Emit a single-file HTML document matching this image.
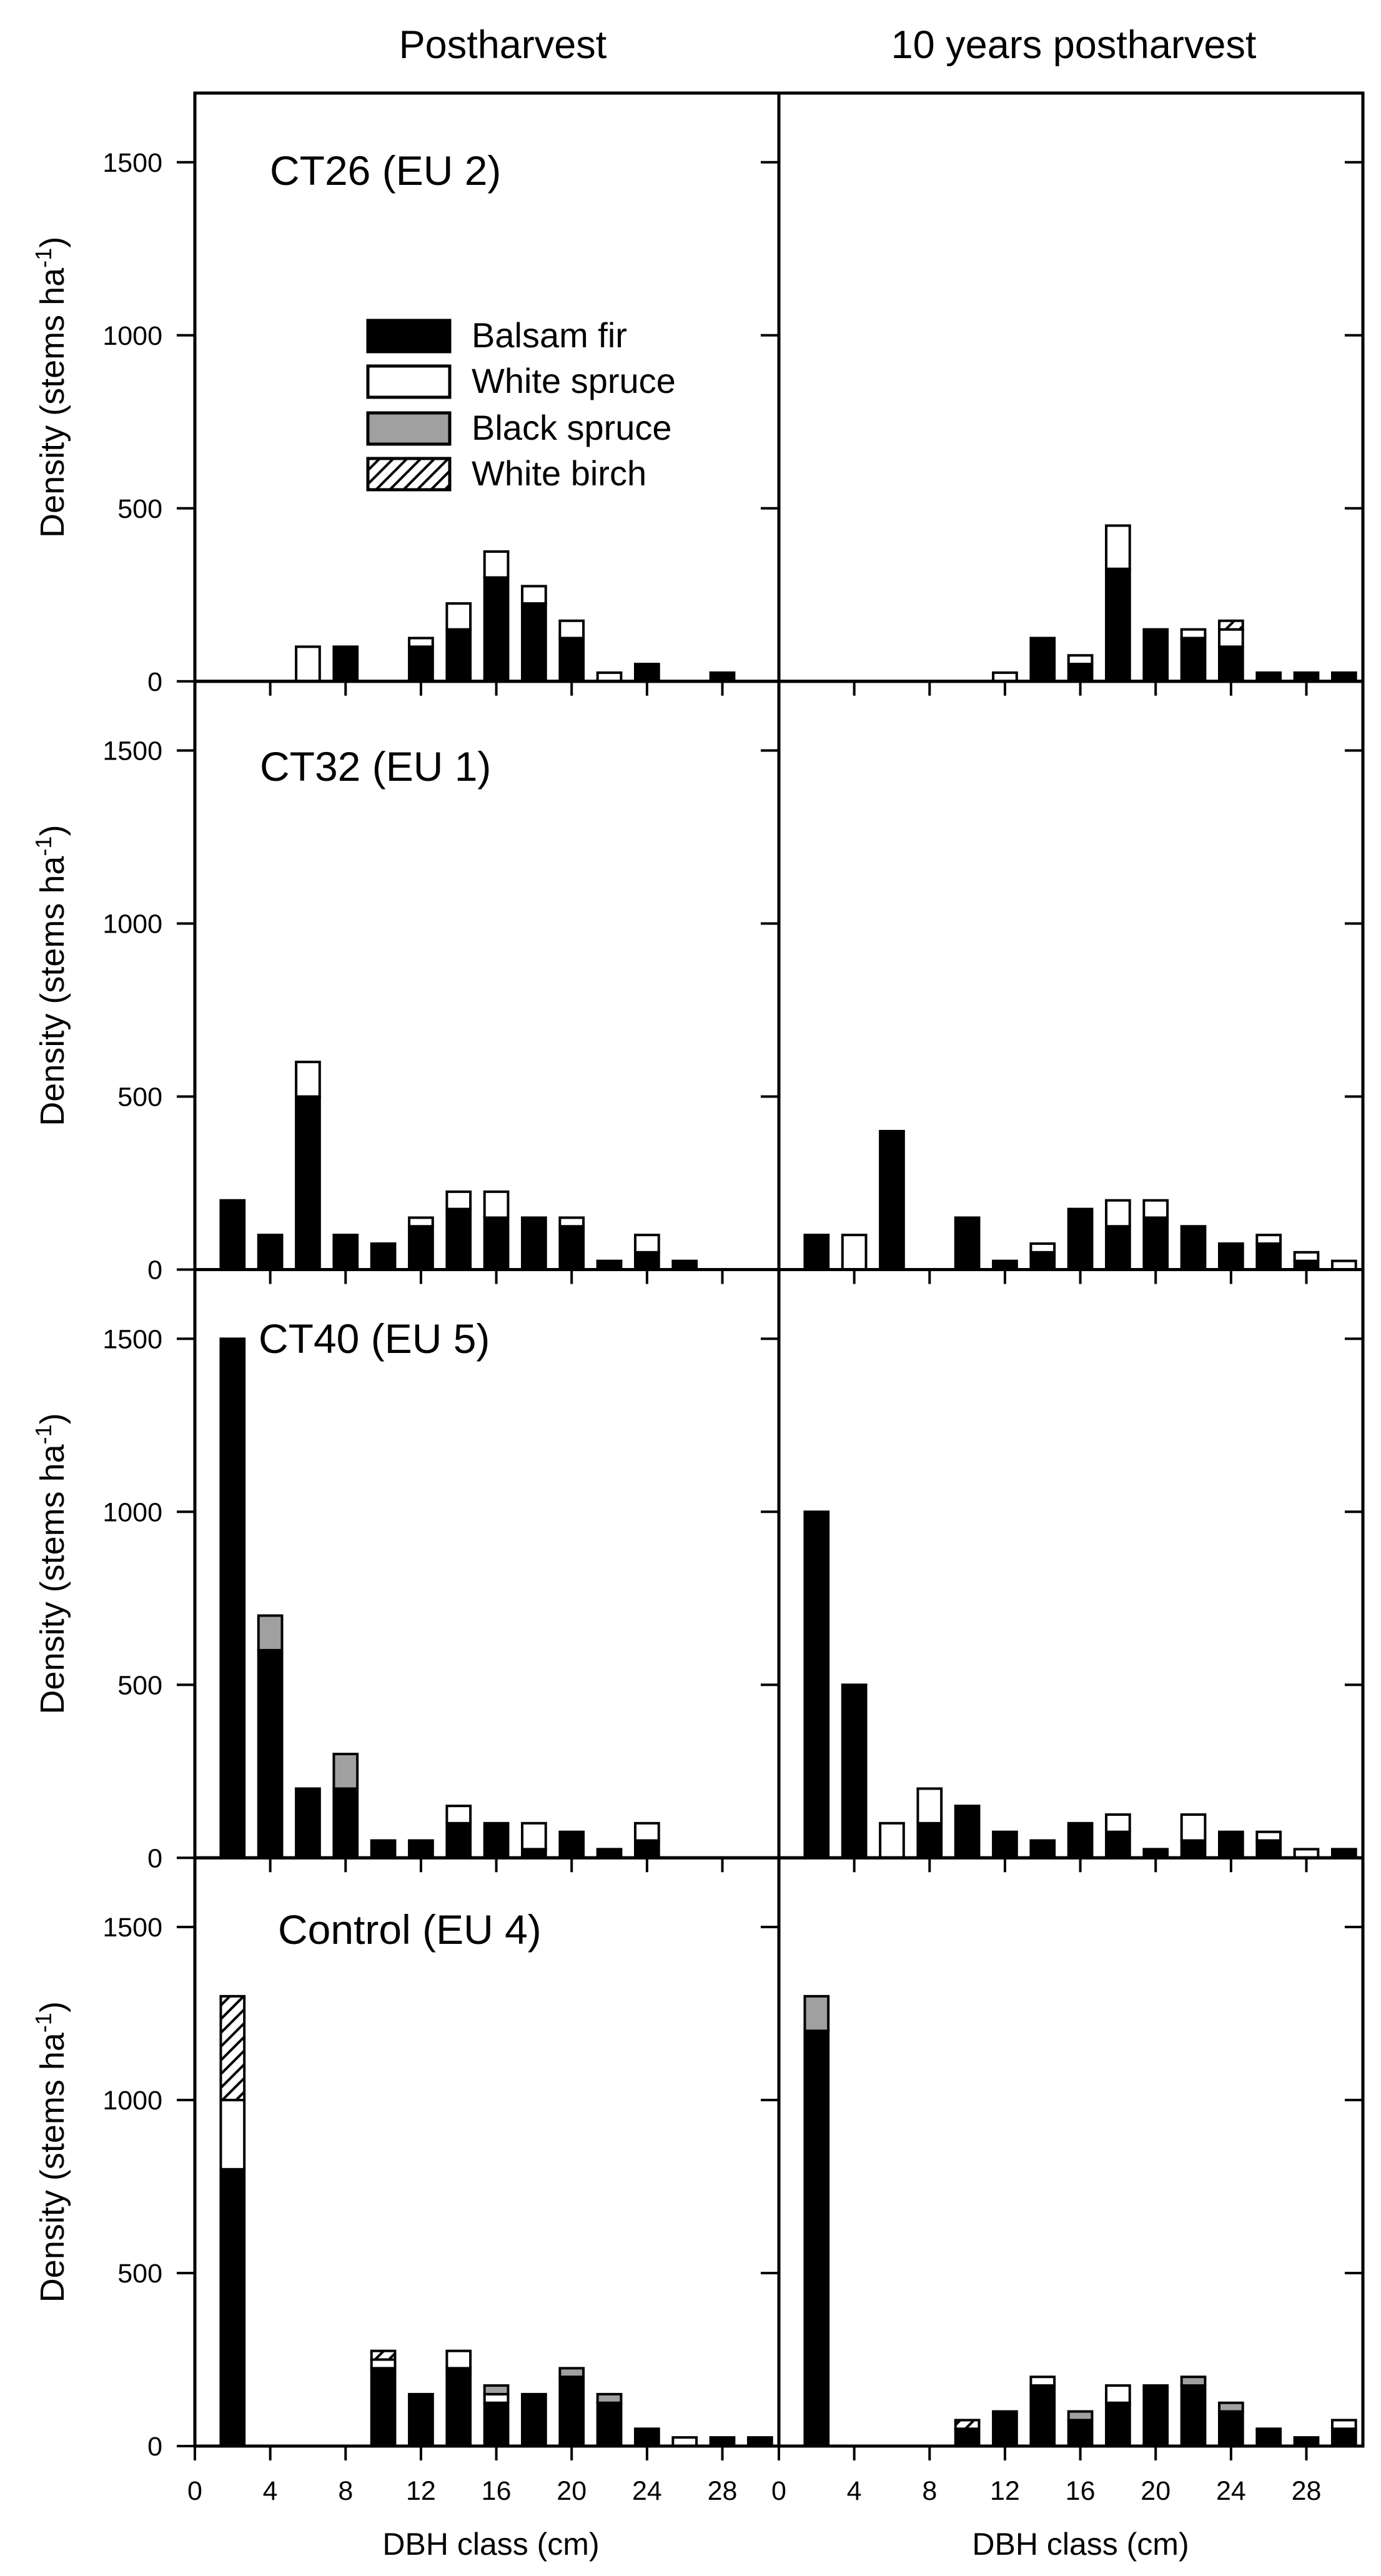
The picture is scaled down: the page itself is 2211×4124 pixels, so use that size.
<!DOCTYPE html>
<html><head><meta charset="utf-8">
<style>
html,body{margin:0;padding:0;background:#fff;}
svg{display:block;font-family:"Liberation Sans",Arial,sans-serif;}
</style></head>
<body>
<svg id="chart" xmlns="http://www.w3.org/2000/svg" width="2211" height="4124" viewBox="0 0 2211 4124">
<defs>
<pattern id="hatch" patternUnits="userSpaceOnUse" width="22" height="22">
<rect width="22" height="22" fill="#fff"/>
<path d="M-5,27 L27,-5 M-16,16 L16,-16 M6,38 L38,6" stroke="#000" stroke-width="4"/>
</pattern>
</defs>
</svg>
<script>
// DBH classes (cm)
const classes = [2,4,6,8,10,12,14,16,18,20,22,24,26,28,30];
const xTicks = [0,4,8,12,16,20,24,28];
const yTicks = [0,500,1000,1500];
const species = ["Balsam fir","White spruce","Black spruce","White birch"];
const columnTitles = ["Postharvest","10 years postharvest"];
const rowTitles = ["CT26 (EU 2)","CT32 (EU 1)","CT40 (EU 5)","Control (EU 4)"];

// CT26 postharvest
const ct26PostFir    = [0,0,0,100,0,100,150,300,225,125,0,50,0,25,0];
const ct26PostWhite  = [0,0,100,0,0,25,75,75,50,50,25,0,0,0,0];
const ct26PostBlack  = [0,0,0,0,0,0,0,0,0,0,0,0,0,0,0];
const ct26PostBirch  = [0,0,0,0,0,0,0,0,0,0,0,0,0,0,0];
// CT26 10 years
const ct26TenFir     = [0,0,0,0,0,0,125,50,325,150,125,100,25,25,25];
const ct26TenWhite   = [0,0,0,0,0,25,0,25,125,0,25,50,0,0,0];
const ct26TenBlack   = [0,0,0,0,0,0,0,0,0,0,0,0,0,0,0];
const ct26TenBirch   = [0,0,0,0,0,0,0,0,0,0,0,25,0,0,0];
// CT32 postharvest
const ct32PostFir    = [200,100,500,100,75,125,175,150,150,125,25,50,25,0,0];
const ct32PostWhite  = [0,0,100,0,0,25,50,75,0,25,0,50,0,0,0];
const ct32PostBlack  = [0,0,0,0,0,0,0,0,0,0,0,0,0,0,0];
const ct32PostBirch  = [0,0,0,0,0,0,0,0,0,0,0,0,0,0,0];
// CT32 10 years
const ct32TenFir     = [100,0,400,0,150,25,50,175,125,150,125,75,75,25,0];
const ct32TenWhite   = [0,100,0,0,0,0,25,0,75,50,0,0,25,25,25];
const ct32TenBlack   = [0,0,0,0,0,0,0,0,0,0,0,0,0,0,0];
const ct32TenBirch   = [0,0,0,0,0,0,0,0,0,0,0,0,0,0,0];
// CT40 postharvest
const ct40PostFir    = [1500,600,200,200,50,50,100,100,25,75,25,50,0,0,0];
const ct40PostWhite  = [0,0,0,0,0,0,50,0,75,0,0,50,0,0,0];
const ct40PostBlack  = [0,100,0,100,0,0,0,0,0,0,0,0,0,0,0];
const ct40PostBirch  = [0,0,0,0,0,0,0,0,0,0,0,0,0,0,0];
// CT40 10 years
const ct40TenFir     = [1000,500,0,100,150,75,50,100,75,25,50,75,50,0,25];
const ct40TenWhite   = [0,0,100,100,0,0,0,0,50,0,75,0,25,25,0];
const ct40TenBlack   = [0,0,0,0,0,0,0,0,0,0,0,0,0,0,0];
const ct40TenBirch   = [0,0,0,0,0,0,0,0,0,0,0,0,0,0,0];
// Control postharvest
const ctlPostFir     = [800,0,0,0,225,150,225,125,150,200,125,50,0,25,25];
const ctlPostWhite   = [200,0,0,0,25,0,50,25,0,0,0,0,25,0,0];
const ctlPostBlack   = [0,0,0,0,0,0,0,25,0,25,25,0,0,0,0];
const ctlPostBirch   = [300,0,0,0,25,0,0,0,0,0,0,0,0,0,0];
// Control 10 years
const ctlTenFir      = [1200,0,0,0,50,100,175,75,125,175,175,100,50,25,50];
const ctlTenWhite    = [0,0,0,0,0,0,25,0,50,0,0,0,0,0,25];
const ctlTenBlack    = [100,0,0,0,0,0,0,25,0,0,25,25,0,0,0];
const ctlTenBirch    = [0,0,0,0,25,0,0,0,0,0,0,0,0,0,0];

const panels = [
  [[ct26PostFir,ct26PostWhite,ct26PostBlack,ct26PostBirch],[ct26TenFir,ct26TenWhite,ct26TenBlack,ct26TenBirch]],
  [[ct32PostFir,ct32PostWhite,ct32PostBlack,ct32PostBirch],[ct32TenFir,ct32TenWhite,ct32TenBlack,ct32TenBirch]],
  [[ct40PostFir,ct40PostWhite,ct40PostBlack,ct40PostBirch],[ct40TenFir,ct40TenWhite,ct40TenBlack,ct40TenBirch]],
  [[ctlPostFir,ctlPostWhite,ctlPostBlack,ctlPostBirch],[ctlTenFir,ctlTenWhite,ctlTenBlack,ctlTenBirch]]
];
const fills = ["#000","#fff","#a0a0a0","url(#hatch)"];
const NS = "http://www.w3.org/2000/svg";
const svg = document.getElementById("chart");
const colX = [312,1247], panelW = 935, topY = 149, rowH = 941.75, xMax = 31, yMax = 1700;
const titleBase = [296,1250,2166,3112];
function xs(c, col){ return colX[col] + c/xMax*panelW; }
function ys(v, row){ return topY + (row+1)*rowH - v/yMax*rowH; }
function mk(tag, attrs, parent){
  const e = document.createElementNS(NS, tag);
  for (const k in attrs) e.setAttribute(k, attrs[k]);
  (parent||svg).appendChild(e); return e;
}
function txt(s, attrs, parent){ const t = mk("text", attrs, parent); t.textContent = s; return t; }

columnTitles.forEach((s,c)=>{
  const t = txt(s,{x: c===0?805:1719, y:93, "font-size":63, "text-anchor":"middle"});
  
  
});

for (let r=0;r<4;r++){
  const bottom = ys(0,r), top = ys(yMax,r);
  for (let c=0;c<2;c++){
    const g = mk("g",{});
    
    
    const data = panels[r][c];
    const bw = 1.25/xMax*panelW;
    classes.forEach((cl,i)=>{
      let acc = 0;
      for (let s=0;s<4;s++){
        const v = data[s][i];
        if (!v) continue;
        const y0 = ys(acc,r), y1 = ys(acc+v,r);
        const rect = mk("rect",{x: xs(cl,c)-bw/2, y: y1, width: bw, height: y0-y1, fill: fills[s], stroke:"#000", "stroke-width":4}, g);
        
        
        acc += v;
      }
    });
    const fr = mk("rect",{x:colX[c], y:top, width:panelW, height:bottom-top, fill:"none", stroke:"#000", "stroke-width":5}, g);
    
    
    xTicks.forEach(t=>{
      const l = mk("line",{x1:xs(t,c), x2:xs(t,c), y1:bottom, y2:bottom+23, stroke:"#000","stroke-width":4}, g);
      
      
    });
    yTicks.forEach(t=>{
      if (t===0) return;
      const y = ys(t,r);
      const rx = colX[c]+panelW;
      const l = mk("line",{x1:rx-29, x2:rx, y1:y, y2:y, stroke:"#000","stroke-width":4}, g);
      
      
      if (c===0){
        const l2 = mk("line",{x1:colX[0]-29, x2:colX[0], y1:y, y2:y, stroke:"#000","stroke-width":4}, g);
        
        
      }
    });
    if (c===0){
      const l0 = mk("line",{x1:colX[0]-29, x2:colX[0], y1:bottom, y2:bottom, stroke:"#000","stroke-width":4}, g);
      
      
      yTicks.forEach(t=>{
        const lb = txt(String(t),{x:260, y:ys(t,r)+15, "font-size":43, "text-anchor":"end"}, g);
        
        
      });
    }
    if (r===3){
      xTicks.forEach(t=>{
        const lb = txt(String(t),{x:xs(t,c), y:4002, "font-size":43, "text-anchor":"middle"}, g);
        
        
      });
      const xt = txt("DBH class (cm)",{x: c===0?786:1730, y:4090, "font-size":50, "text-anchor":"middle"}, g);
      
      
    }
  }
  const rt = txt(rowTitles[r],{x:[432,416,414,445][r], y:titleBase[r], "font-size":66});
  
  
  const cy = (top+bottom)/2;
  const yt = mk("text",{x:0,y:0,"font-size":54,"text-anchor":"middle",transform:"translate(102,"+cy+") rotate(-90)"});
  
  
  const t1 = mk("tspan",{}, yt); t1.textContent = "Density (stems ha";
  const t2 = mk("tspan",{"font-size":36, dy:-20}, yt); t2.textContent = "-1";
  const t3 = mk("tspan",{dy:20}, yt); t3.textContent = ")";
}

const lg = mk("g",{});


const legTops = [513,586,661,734];
species.forEach((s,i)=>{
  const e = mk("g",{}, lg);
  
  
  mk("rect",{x:589,y:legTops[i],width:131,height:50,fill:fills[i],stroke:"#000","stroke-width":5}, e);
  txt(s,{x:755,y:legTops[i]+43,"font-size":56}, e);
});
</script>
</body></html>
